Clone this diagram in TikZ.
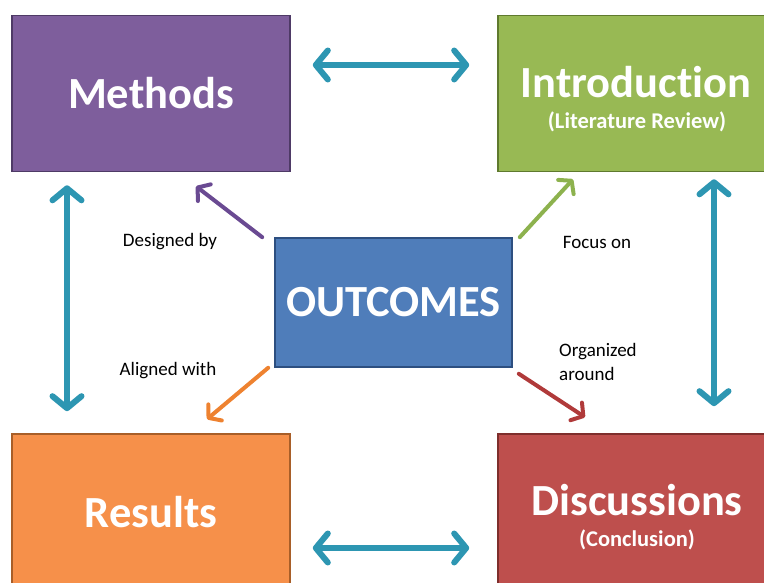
\documentclass[tikz,border=0pt]{standalone}
\usepackage{fontspec}
\setmainfont{Carlito}[Ligatures=NoCommon]
\usetikzlibrary{arrows.meta}
\definecolor{mpurple}{HTML}{7E5E9C}
\definecolor{mpurpleD}{HTML}{4E3A66}
\definecolor{igreen}{HTML}{98B954}
\definecolor{igreenD}{HTML}{5F7A2E}
\definecolor{rorange}{HTML}{F6904A}
\definecolor{rorangeD}{HTML}{A85E28}
\definecolor{dred}{HTML}{BE4F4D}
\definecolor{dredD}{HTML}{7E2E2C}
\definecolor{oblue}{HTML}{4F7DBA}
\definecolor{oblueD}{HTML}{2D4F80}
\definecolor{teal}{HTML}{2D96B2}
\definecolor{apurple}{HTML}{6A4A92}
\definecolor{agreen}{HTML}{8DB24E}
\definecolor{aorange}{HTML}{EE8230}
\definecolor{ared}{HTML}{B03A3A}
\tikzset{
  box/.style={rectangle, draw, line width=1.6pt, minimum width=278pt, minimum height=156pt,
    inner sep=0pt, text=white, font=\bfseries\fontsize{44.5}{50}\selectfont, align=center},
  big/.style={text=white, font=\bfseries\fontsize{44.5}{50}\selectfont, inner sep=0pt},
  sub/.style={text=white, font=\bfseries\fontsize{22.5}{26}\selectfont, inner sep=0pt},
  tealarrow/.style={draw=teal, line width=6pt, line cap=round,
    {Straight Barb[length=12pt,width=29pt,round]}-{Straight Barb[length=12pt,width=29pt,round]}},
  diag/.style={line width=4pt, line cap=round, -{Straight Barb[length=8.5pt,width=21pt,round]}},
  lbl/.style={font=\fontsize{19}{24}\selectfont, inner sep=0pt}
}
\begin{document}
\begin{tikzpicture}[x=1pt,y=1pt]
\useasboundingbox (0,0) rectangle (764,583);
\clip (0,0) rectangle (764,583);
\node[box, fill=mpurple, draw=mpurpleD] (m) at (151,489.5) {Methods};
\node[box, fill=igreen, draw=igreenD] (i) at (637,489.5) {};
\node[big] (it) at (636,501) {Introduction};
\node[sub] (is) at (637,461) {(Literature Review)};
\node[box, fill=rorange, draw=rorangeD] (r) at (151,71) {Results};
\node[box, fill=dred, draw=dredD] (d) at (637,71) {};
\node[big] (dt) at (637,83) {Discussions};
\node[sub] (ds) at (637,43) {(Conclusion)};
\node[box, fill=oblue, draw=oblueD, minimum width=237pt, minimum height=129pt] (o) at (393.5,280.5) {OUTCOMES};

\draw[tealarrow] ([xshift=22pt,yshift=28.5pt]m.east) -- ([xshift=-28pt,yshift=28.5pt]i.west);
\draw[tealarrow] ([xshift=22pt,yshift=-36pt]r.east) -- ([xshift=-28pt,yshift=-36pt]d.west);
\draw[tealarrow] ([xshift=-84pt,yshift=-13pt]m.south) -- ([xshift=-84pt,yshift=22pt]r.north);
\draw[tealarrow] ([xshift=77pt,yshift=-7pt]i.south) -- ([xshift=77pt,yshift=27pt]d.north);

\draw[diag, draw=apurple] ([xshift=-12pt]o.north west) -- ([xshift=45pt,yshift=-14pt]m.south);
\draw[diag, draw=agreen] ([xshift=7pt]o.north east) -- ([xshift=-64pt,yshift=-7pt]i.south);
\draw[diag, draw=aorange] ([xshift=-6pt]o.south west) -- ([xshift=56pt,yshift=14pt]r.north);
\draw[diag, draw=ared] ([xshift=6pt,yshift=-6pt]o.south east) -- ([xshift=-52pt,yshift=16pt]d.north);

\node[lbl] (l1) at (170,341) {Designed by};
\node[lbl] (l2) at (597,341) {Focus on};
\node[lbl] (l3) at (168,212) {Aligned with};
\node[lbl, anchor=west, align=left] (l4) at (559,221) {Organized\\around};
\end{tikzpicture}
\end{document}
